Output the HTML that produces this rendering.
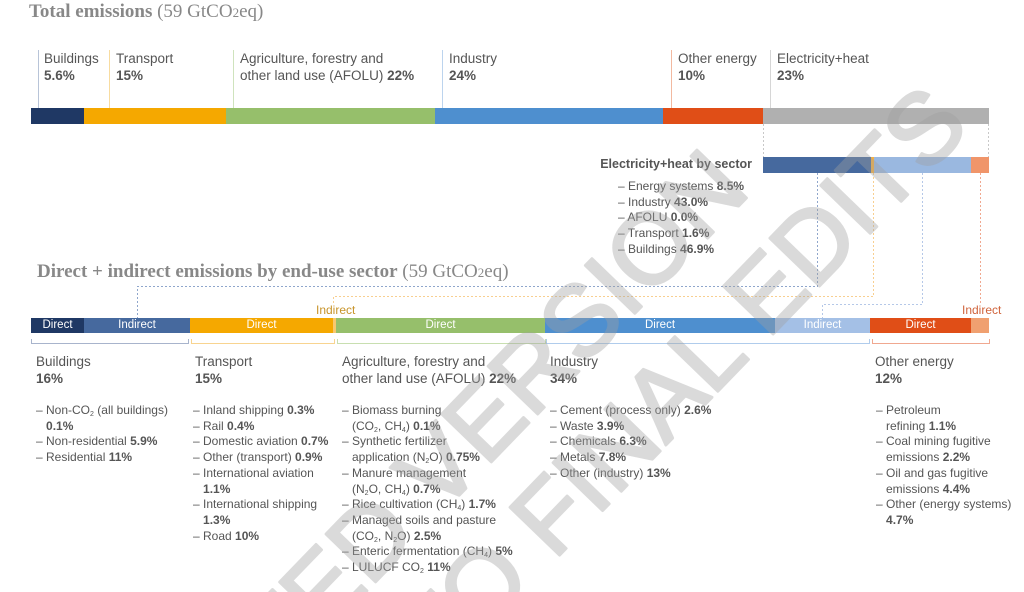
<!DOCTYPE html>
<html><head><meta charset="utf-8"><style>
html,body{margin:0;background:#fff;overflow:hidden;width:1024px;height:592px;}
#c{position:relative;width:1024px;height:592px;overflow:hidden;font-family:"Liberation Sans Narrow","Liberation Sans",sans-serif;color:#555;font-size:12.5px;}
.a{position:absolute;white-space:nowrap;line-height:16px;}
.b{position:absolute;}
.t{font-family:"Liberation Serif",serif;font-size:19px;color:#888;}
.t b{font-weight:bold;}
.lab{font-size:13.5px;line-height:17px;}
.lab b,.it b{font-weight:bold;color:#555;}
.it{font-size:12px;line-height:15.7px;}
sub{font-size:7px;line-height:0;vertical-align:-2px;}
.bar{position:absolute;height:15px;color:#fff;font-size:11.5px;text-align:center;line-height:15px;}
.vl{position:absolute;width:1px;}
</style></head><body><div id="c">
<div class="a t" style="left:29px;top:4px;"><b>Total emissions</b> (59 GtCO<span style="font-size:13px">2</span>eq)</div>

<div class="vl" style="left:38px;top:50px;height:58px;background:#b8c4d8"></div>
<div class="vl" style="left:109px;top:50px;height:58px;background:#f8dca0"></div>
<div class="vl" style="left:233px;top:50px;height:58px;background:#cfe3bd"></div>
<div class="vl" style="left:442px;top:50px;height:58px;background:#bcd4ee"></div>
<div class="vl" style="left:671px;top:50px;height:58px;background:#f2b9a0"></div>
<div class="vl" style="left:770px;top:50px;height:58px;background:#d6d6d6"></div>
<div class="a lab" style="left:44px;top:50px;">Buildings<br><b>5.6%</b></div>
<div class="a lab" style="left:116px;top:50px;">Transport<br><b>15%</b></div>
<div class="a lab" style="left:240px;top:50px;">Agriculture, forestry and<br>other land use (AFOLU) <b>22%</b></div>
<div class="a lab" style="left:449px;top:50px;">Industry<br><b>24%</b></div>
<div class="a lab" style="left:678px;top:50px;">Other energy<br><b>10%</b></div>
<div class="a lab" style="left:777px;top:50px;">Electricity+heat<br><b>23%</b></div>

<div class="bar" style="left:31px;top:108px;width:53px;height:16px;background:#1f3864"></div>
<div class="bar" style="left:84px;top:108px;width:142px;height:16px;background:#f5a800"></div>
<div class="bar" style="left:226px;top:108px;width:209px;height:16px;background:#96bf6b"></div>
<div class="bar" style="left:435px;top:108px;width:228px;height:16px;background:#4e8fcf"></div>
<div class="bar" style="left:663px;top:108px;width:100px;height:16px;background:#e04e17"></div>
<div class="bar" style="left:763px;top:108px;width:226px;height:16px;background:#b0b0b0"></div>

<svg class="b" style="left:0;top:0" width="1024" height="592">
<g fill="none" stroke-width="1" stroke-dasharray="2,2">
<path d="M763.5 124V157M988.5 124V157" stroke="#c8c8c8"/>
<path d="M817.5 173V286.5H137.5V318" stroke="#8fa6cc"/>
<path d="M873.5 173V296.5H333.5V305" stroke="#f8cf90"/>
<path d="M922.5 173V304.5H822.5V318" stroke="#b5c8e8"/>
<path d="M980.5 173V305" stroke="#f0a890"/>
</g>
<g fill="none" stroke-width="1">
<path d="M31.5 339V343.5H188.5V339" stroke="#a8b4cc"/>
<path d="M191.5 339V343.5H334.5V339" stroke="#f8d490"/>
<path d="M337.5 339V343.5H545.5V339" stroke="#c8dfb0"/>
<path d="M546.5 339V343.5H869.5V339" stroke="#b0ccec"/>
<path d="M872.5 339V343.5H989.5V339" stroke="#f0a890"/>
</g>
</svg>

<div class="bar" style="left:763px;top:157px;width:108px;height:16px;background:#46699e"></div>
<div class="bar" style="left:871px;top:157px;width:3px;height:16px;background:#f5b040"></div>
<div class="bar" style="left:874px;top:157px;width:97px;height:16px;background:#9ab8e0"></div>
<div class="bar" style="left:971px;top:157px;width:18px;height:16px;background:#f0956a"></div>
<div class="a it" style="right:272px;top:157px;font-size:12.5px;font-weight:bold;">Electricity+heat by sector</div>
<div class="a it" style="left:618px;top:179px;">– Energy systems <b>8.5%</b><br>– Industry <b>43.0%</b><br>– AFOLU <b>0.0%</b><br>– Transport <b>1.6%</b><br>– Buildings <b>46.9%</b></div>

<div class="a t" style="left:37px;top:264px;"><b>Direct + indirect emissions by end-use sector</b> (59 GtCO<span style="font-size:13px">2</span>eq)</div>

<div class="a" style="left:316px;top:302px;font-size:12px;color:#c8942a;">Indirect</div>
<div class="a" style="left:962px;top:302px;font-size:12px;color:#d0643c;">Indirect</div>
<div class="bar" style="left:31px;top:318px;width:53px;background:#1f3864">Direct</div>
<div class="bar" style="left:84px;top:318px;width:106px;background:#46699e">Indirect</div>
<div class="bar" style="left:190px;top:318px;width:143px;background:#f5a800">Direct</div>
<div class="bar" style="left:333px;top:318px;width:3px;background:#f8c870"></div>
<div class="bar" style="left:336px;top:318px;width:209px;background:#96bf6b">Direct</div>
<div class="bar" style="left:545px;top:318px;width:230px;background:#4e8fcf">Direct</div>
<div class="bar" style="left:775px;top:318px;width:95px;background:#a4c0e6">Indirect</div>
<div class="bar" style="left:870px;top:318px;width:101px;background:#e04e17">Direct</div>
<div class="bar" style="left:971px;top:318px;width:18px;background:#f0a070"></div>

<div class="a lab" style="left:36px;top:353px;">Buildings<br><b>16%</b></div>
<div class="a lab" style="left:195px;top:353px;">Transport<br><b>15%</b></div>
<div class="a lab" style="left:342px;top:353px;">Agriculture, forestry and<br>other land use (AFOLU) <b>22%</b></div>
<div class="a lab" style="left:550px;top:353px;">Industry<br><b>34%</b></div>
<div class="a lab" style="left:875px;top:353px;">Other energy<br><b>12%</b></div>

<div class="a it" style="left:36px;top:403px;">– Non-CO<sub>2</sub> (all buildings)<br>&nbsp;&nbsp;&nbsp;<b>0.1%</b><br>– Non-residential <b>5.9%</b><br>– Residential <b>11%</b></div>
<div class="a it" style="left:193px;top:403px;">– Inland shipping <b>0.3%</b><br>– Rail <b>0.4%</b><br>– Domestic aviation <b>0.7%</b><br>– Other (transport) <b>0.9%</b><br>– International aviation<br>&nbsp;&nbsp;&nbsp;<b>1.1%</b><br>– International shipping<br>&nbsp;&nbsp;&nbsp;<b>1.3%</b><br>– Road <b>10%</b></div>
<div class="a it" style="left:342px;top:403px;">– Biomass burning<br>&nbsp;&nbsp;&nbsp;(CO<sub>2</sub>, CH<sub>4</sub>) <b>0.1%</b><br>– Synthetic fertilizer<br>&nbsp;&nbsp;&nbsp;application (N<sub>2</sub>O) <b>0.75%</b><br>– Manure management<br>&nbsp;&nbsp;&nbsp;(N<sub>2</sub>O, CH<sub>4</sub>) <b>0.7%</b><br>– Rice cultivation (CH<sub>4</sub>) <b>1.7%</b><br>– Managed soils and pasture<br>&nbsp;&nbsp;&nbsp;(CO<sub>2</sub>, N<sub>2</sub>O) <b>2.5%</b><br>– Enteric fermentation (CH<sub>4</sub>) <b>5%</b><br>– LULUCF CO<sub>2</sub> <b>11%</b></div>
<div class="a it" style="left:550px;top:403px;">– Cement (process only) <b>2.6%</b><br>– Waste <b>3.9%</b><br>– Chemicals <b>6.3%</b><br>– Metals <b>7.8%</b><br>– Other (industry) <b>13%</b></div>
<div class="a it" style="left:876px;top:403px;">– Petroleum<br>&nbsp;&nbsp;&nbsp;refining <b>1.1%</b><br>– Coal mining fugitive<br>&nbsp;&nbsp;&nbsp;emissions <b>2.2%</b><br>– Oil and gas fugitive<br>&nbsp;&nbsp;&nbsp;emissions <b>4.4%</b><br>– Other (energy systems)<br>&nbsp;&nbsp;&nbsp;<b>4.7%</b></div>

<svg class="b" style="left:0;top:0" width="1024" height="592">
<g opacity="0.38" font-family="Liberation Sans, sans-serif" font-size="100" fill="#a0a0a0" stroke="#a0a0a0" stroke-width="3" stroke-linejoin="round" text-anchor="end">
<text transform="translate(752,192) rotate(-46)">ACCEPTED VERSION</text>
<text transform="translate(972,128) rotate(-46)">SUBJECT TO FINAL EDITS</text>
</g>
</svg>
</div></body></html>
